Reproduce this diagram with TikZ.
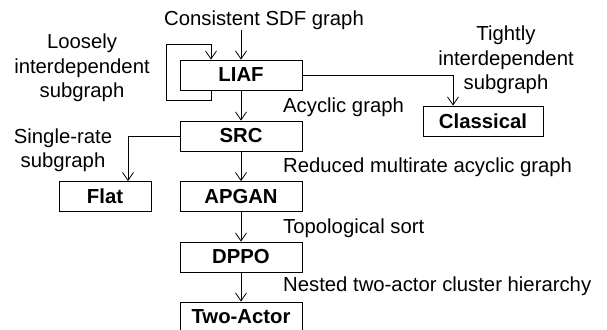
\documentclass[tikz,border=0pt]{standalone}
\usepackage{fontspec}
\setmainfont{Liberation Sans}
\usetikzlibrary{arrows.meta}

\newcommand{\picfont}{\fontsize{20.3}{24.5}\selectfont}

\tikzset{
  stage/.style={draw, line width=0.8pt, minimum height=30pt, inner sep=0pt, font=\picfont\bfseries},
  note/.style={align=center, inner sep=0pt, font=\picfont},
  arr/.style={line width=0.8pt, -{Straight Barb[length=8pt,width=11pt]}}
}

\begin{document}
\begin{tikzpicture}[x=1pt, y=-1pt]
      \useasboundingbox (0,0) rectangle (607,329);

      % flow stages
      \node[stage, minimum width=122pt] (liaf) at (241, 75) {LIAF};
      \node[stage, minimum width=122pt] (src) at (241, 136) {SRC};
      \node[stage, minimum width=122pt] (apgan) at (241, 196.5) {APGAN};
      \node[stage, minimum width=122pt] (dppo) at (241, 257) {DPPO};
      \node[stage, minimum width=122pt] (twoactor) at (241, 317) {Two-Actor};
      \node[stage, minimum width=92pt] (flat) at (105, 196.5) {Flat};
      \node[stage, minimum width=120pt] (classical) at (483, 121) {Classical};

      % labels
      \node[note] (input) at (264, 20) {Consistent SDF graph};
      \node[note] (loosely) at (82, 68) {Loosely\\interdependent\\subgraph};
      \node[note] (tightly) at (506, 60) {Tightly\\interdependent\\subgraph};
      \node[note] (singlerate) at (63, 150) {Single-rate\\subgraph};
      \node[note, anchor=west] (acyclic) at (283, 107) {Acyclic graph};
      \node[note, anchor=west] (reduced) at (283, 167) {Reduced multirate acyclic graph};
      \node[note, anchor=west] (topo) at (283, 228) {Topological sort};
      \node[note, anchor=west] (nested) at (283, 286) {Nested two-actor cluster hierarchy};

      \coordinate (start) at (241, 30);
      \coordinate (loopx) at (211, 0);
      \coordinate (tightx) at (453, 0);
      \coordinate (flatx) at (128, 0);

      % connectors
      \draw[arr] (start) -- (liaf);
      \draw[arr] (liaf.south -| loopx) -- ++(0, 10) -- ++(-45, 0) -- ++(0, -56)
                 -- ++(45, 0) -- (liaf.north -| loopx);
      \draw[arr] (liaf.east) -| (classical.north -| tightx);
      \draw[arr] (liaf) -- (src);
      \draw[arr] (src.west) -| (flat.north -| flatx);
      \draw[arr] (src) -- (apgan);
      \draw[arr] (apgan) -- (dppo);
      \draw[arr] (dppo) -- (twoactor);
\end{tikzpicture}
\end{document}
